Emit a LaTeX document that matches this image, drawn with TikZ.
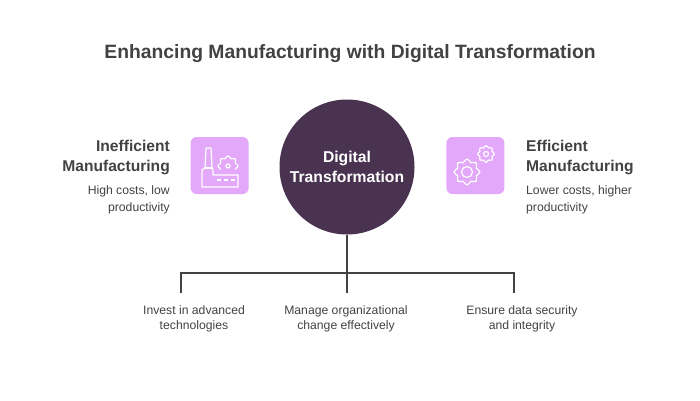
\documentclass[tikz,border=0pt]{standalone}
\usepackage{fontspec}
\setmainfont{Liberation Sans}
\usepackage{tikz}
\usetikzlibrary{positioning}
\definecolor{hubcolor}{HTML}{4A3350}
\definecolor{iconcolor}{HTML}{E3A8F9}
\definecolor{inkcolor}{HTML}{424242}
\tikzset{
    head/.style={font=\bfseries\fontsize{15.6}{20}\selectfont, text=inkcolor, inner sep=0pt},
    note/.style={font=\fontsize{12.2}{17}\selectfont, text=inkcolor, inner sep=0pt},
    tasknote/.style={font=\fontsize{12.2}{15.5}\selectfont, text=inkcolor, inner sep=0pt, align=center},
    iconbox/.style={fill=iconcolor, rounded corners=6pt, minimum width=58pt, minimum height=57pt, inner sep=0pt},
    iconline/.style={draw=white, line width=1.2pt, line join=round},
    wire/.style={draw=inkcolor, line width=1.3pt},
    pics/gear/.style 2 args={code={
        \draw[iconline] plot[smooth cycle, domain=0:348.75, samples=32] (\x:{#1*(1+0.13*cos(8*\x))});
        \draw[iconline] (0,0) circle[radius=#2];
    }}
}
\begin{document}
\begin{tikzpicture}[x=1pt, y=-1pt]
\useasboundingbox (0,0) rectangle (700,400);

% Title
\node (title) [font=\bfseries\fontsize{19.3}{24}\selectfont, text=inkcolor, inner sep=0pt] at (350,54) {Enhancing Manufacturing with Digital Transformation};

% Circle
\node (hub) [circle, fill=hubcolor, text=white, minimum size=135pt, inner sep=0pt, align=center,
    font=\bfseries\fontsize{15.7}{20}\selectfont] at (347,167) {Digital\\Transformation};

% Icons
\node (badleft) [iconbox, left=30.5pt of hub, yshift=1.5pt] {};
\node (goodright) [iconbox, right=31.5pt of hub, yshift=1.5pt] {};

% Left side
\node (badhead) [head, align=right, anchor=north east] at (170,140) {Inefficient\\Manufacturing};
\node (badnote) [note, align=right, anchor=north east] at (170,185) {High costs, low\\productivity};

% Right side
\node (goodhead) [head, align=left, anchor=north west] at (526,140) {Efficient\\Manufacturing};
\node (goodnote) [note, align=left, anchor=north west] at (526,185) {Lower costs, higher\\productivity};

% Factory
\draw[iconline] (202,187) -- (202,170) -- (205,168) -- (206,148) -- (211,148) -- (212,168) -- (213,170)
    -- (213,175) -- (238,175) -- (238,187) -- cycle;
\draw[iconline] (205,168) -- (212,168);
\draw[iconline] (217,180) -- (221,180) (224,180) -- (228,180) (231,180) -- (235,180);
\draw[iconline] plot[smooth, domain=154:386, samples=24] ([shift={(228,166)}]\x:{9*(1+0.13*cos(8*\x))});
\draw[iconline] (228,166) circle[radius=2];

% Gears
\pic at (467,172) {gear={11.5}{5.5}};
\pic at (486,154) {gear={7.5}{2.5}};

% Tasks
\node (taskone) [tasknote] at (194,319) {Invest in advanced\\technologies};
\node (tasktwo) [tasknote] at (346,319) {Manage organizational\\change effectively};
\node (taskthree) [tasknote] at (522,319) {Ensure data security\\and integrity};

% Connectors
\coordinate (junction) at (347,273);
\coordinate (dropone) at (181,293);
\coordinate (droptwo) at (347,293);
\coordinate (dropthree) at (514,293);
\draw[wire] (hub) -- (droptwo);
\draw[wire] (dropone) |- (junction) -| (dropthree);

\end{tikzpicture}
\end{document}
